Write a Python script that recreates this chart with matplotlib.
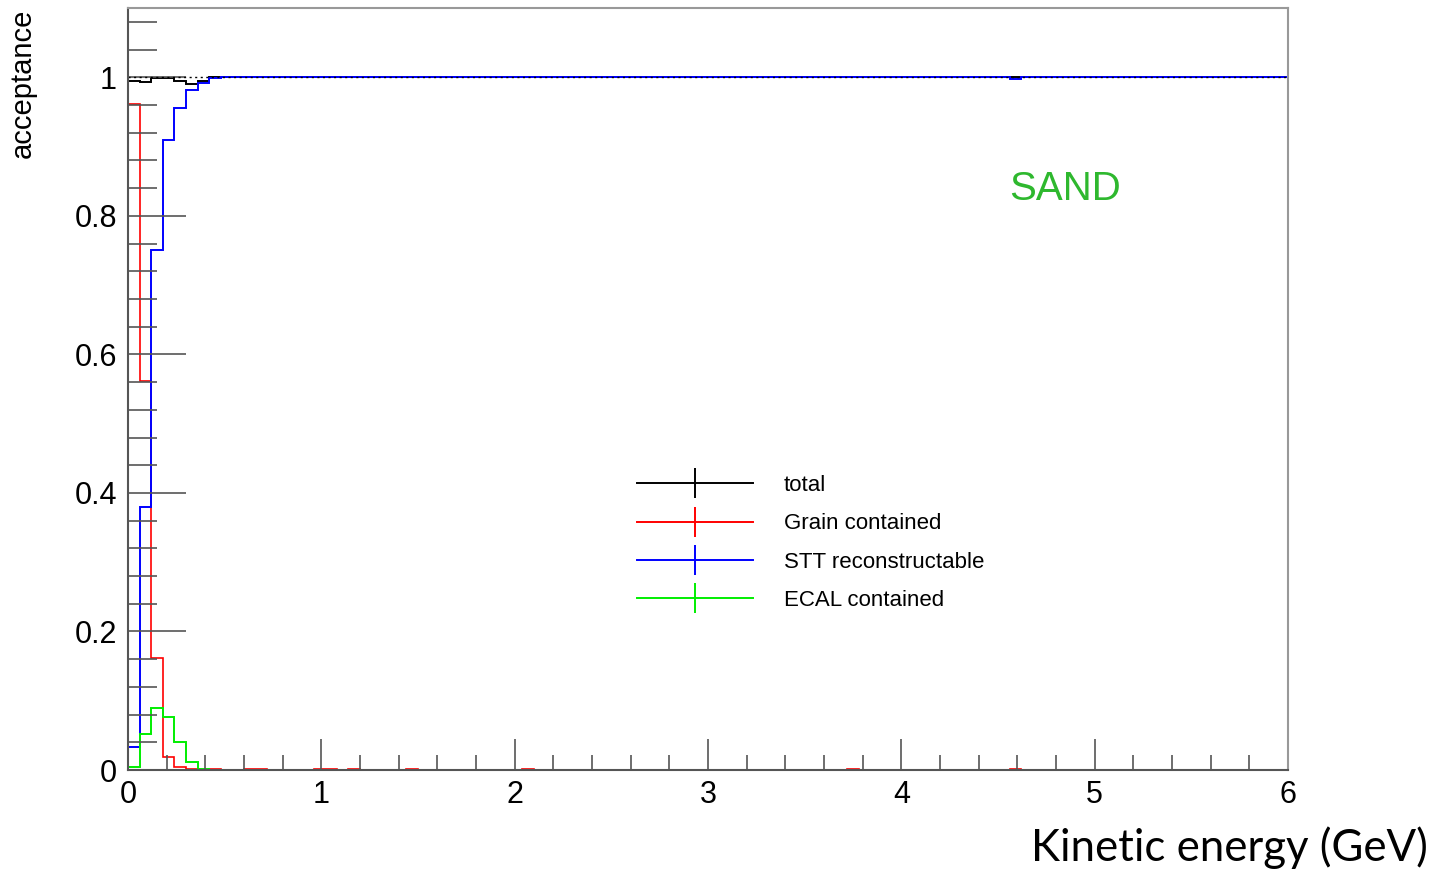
import numpy as np
import matplotlib.pyplot as plt
from matplotlib.lines import Line2D
from matplotlib.ticker import MultipleLocator

# 100 bins of 0.06 GeV from 0 to 6 GeV
n_bins = 100
edges = np.linspace(0, 6, n_bins + 1)

total = [0.995, 0.993, 0.999, 0.9995, 0.995, 0.99, 0.995] + [1.0] * 93

grain = [0.961, 0.562, 0.162, 0.019, 0.004, 0.002, 0.0, 0.002, 0.0, 0.0,
         0.002, 0.002, 0.0, 0.0, 0.0, 0.0, 0.002, 0.002, 0.0, 0.002,
         0.0, 0.0, 0.0, 0.0, 0.002, 0.0, 0.0, 0.0, 0.0, 0.0,
         0.0, 0.0, 0.0, 0.0, 0.002] + [0.0] * 27 + [0.002] + [0.0] * 13 + [0.002] + [0.0] * 23

stt = [0.033, 0.379, 0.750, 0.909, 0.955, 0.981, 0.992, 0.999] + [1.0] * 68 + [0.998] + [1.0] * 23

ecal = [0.005, 0.052, 0.089, 0.077, 0.040, 0.012, 0.001] + [0.0] * 93

labels = ["total", "Grain contained", "STT reconstructable", "ECAL contained"]
colors = ["black", "#ff0000", "#0000ff", "#00ee00"]

plt.rcParams['font.family'] = ['Liberation Sans', 'DejaVu Sans']

fig = plt.figure(figsize=(14.34, 8.69), dpi=100)
ax = fig.add_axes([0.0893, 0.1139, 0.8089, 0.8769])

lw = 1.4
ax.stairs(total, edges, baseline=None, color=colors[0], lw=lw)
ax.stairs(grain, edges, baseline=None, color=colors[1], lw=1.2)
ax.stairs(stt, edges, baseline=None, color=colors[2], lw=lw)
ax.stairs(ecal, edges, baseline=None, color=colors[3], lw=lw)
ax.axhline(1.0, color='black', ls=(0, (1.5, 2.5)), lw=1.0)

ax.set_xlim(0, 6)
ax.set_ylim(0, 1.1)

ax.xaxis.set_major_locator(MultipleLocator(1))
ax.xaxis.set_minor_locator(MultipleLocator(0.2))
ax.yaxis.set_major_locator(MultipleLocator(0.2))
ax.yaxis.set_minor_locator(MultipleLocator(0.04))
ax.set_yticks([0, 0.2, 0.4, 0.6, 0.8, 1.0])
ax.set_yticklabels(["0", "0.2", "0.4", "0.6", "0.8", "1"])

ax.tick_params(axis='both', which='both', direction='in', color='#555555',
               width=1.2, labelsize=22, top=False, right=False)
ax.tick_params(axis='x', which='major', length=22, pad=7)
ax.tick_params(axis='x', which='minor', length=11)
ax.tick_params(axis='y', which='major', length=42, pad=8)
ax.tick_params(axis='y', which='minor', length=21)

for side in ['left', 'bottom']:
    ax.spines[side].set_color('#555555')
    ax.spines[side].set_linewidth(1.5)
for side in ['top', 'right']:
    ax.spines[side].set_color('#999999')
    ax.spines[side].set_linewidth(1.5)

fig.text(0.016, 0.99, "acceptance", rotation=90, ha='center', va='top', fontsize=21)

ax.text(0.808, 0.762, "SAND", transform=ax.transAxes, color='#2eb82e',
        fontsize=29, ha='center', va='center')

handles = [Line2D([0], [0], color=c, lw=lw, marker='|', markersize=22,
                  markeredgewidth=1.4) for c in colors]
ax.legend(handles, labels, loc='upper left', bbox_to_anchor=(0.439, 0.387),
          frameon=False, fontsize=16, handlelength=5.2, handletextpad=1.4,
          labelspacing=0.78, borderpad=0, borderaxespad=0)

fig.text(0.996, 0.025, "Kinetic energy (GeV)", ha='right', va='center',
         fontsize=31.5, family=['Lato', 'DejaVu Sans'])

plt.savefig('out.png', dpi=100)
